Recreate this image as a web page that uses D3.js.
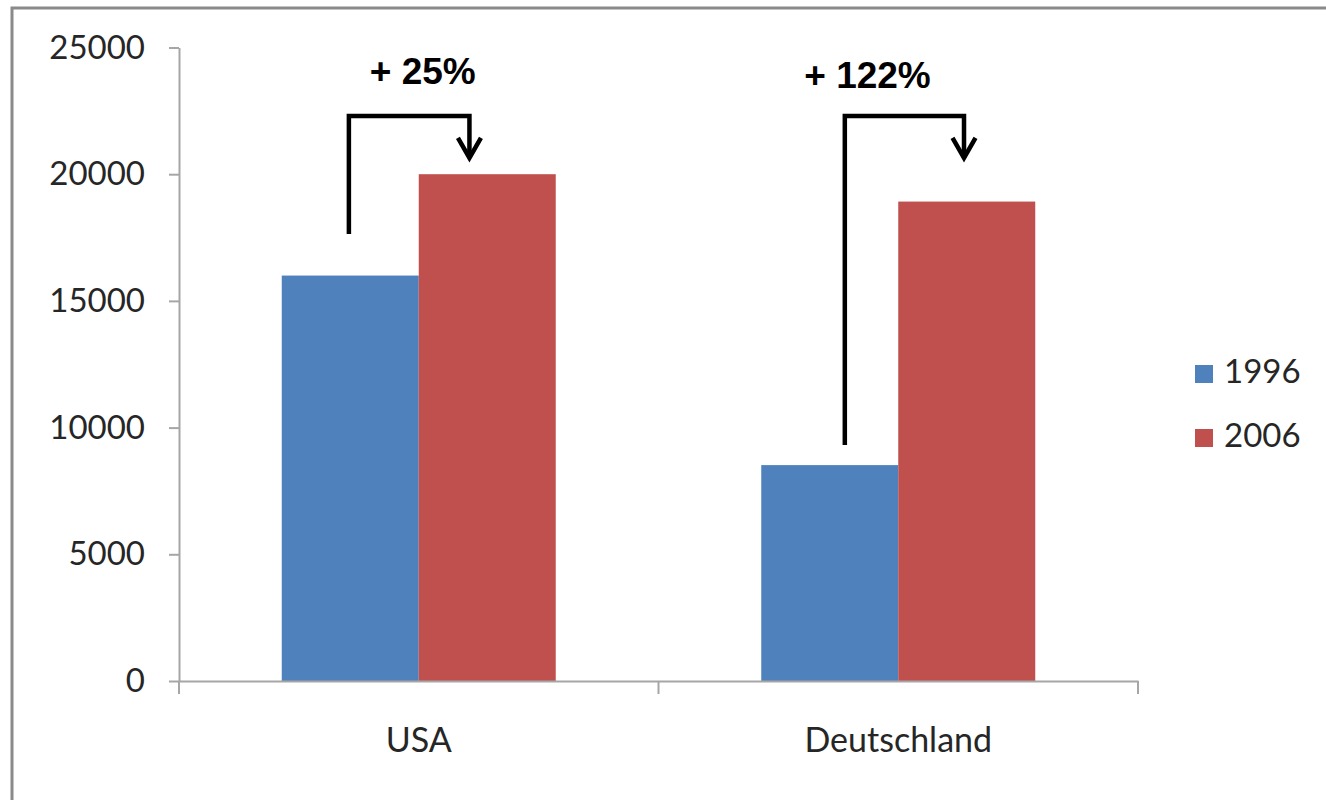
<!DOCTYPE html>
<html>
<head>
<meta charset="utf-8">
<script src="https://cdn.jsdelivr.net/npm/d3@7"></script>
<style>
  html, body { margin: 0; padding: 0; background: #fff; }
  svg { display: block; }
  .tick text, .lbl { font-family: Lato, "Open Sans", sans-serif; fill: #262626; }
  .anno { font-family: "Liberation Sans", Arial, sans-serif; font-weight: bold; fill: #000; }
</style>
</head>
<body>
<svg id="chart" width="1326" height="800"></svg>
<script>
// Values per country and year
const categories = ["USA", "Deutschland"];
const seriesNames = ["1996", "2006"];
const values1996 = [16000, 8520];
const values2006 = [20000, 18920];
const yTicks = [0, 5000, 10000, 15000, 20000, 25000];
const colors = ["#4F81BD", "#C0504D"];

// Growth annotations: label, value where the bracket starts, bracket height, arrow tip
const annoLabels = ["+ 25%", "+ 122%"];
const annoStart = [17640, 9310];
const annoBracket = 22300;
const annoTip = 20640;

const W = 1326, H = 800;
const plot = { left: 179, right: 1138, top: 47.5, bottom: 681 };
const fontSize = "33px";

const svg = d3.select("#chart");

// outer frame (top and left edges visible)
svg.append("path")
  .attr("d", `M12,${H} V8 H${W}`)
  .attr("fill", "none")
  .attr("stroke", "#8a8a8a")
  .attr("stroke-width", 3);

const y = d3.scaleLinear().domain([0, 25000]).range([plot.bottom, plot.top]);
const x = d3.scaleBand().domain(categories).range([plot.left, plot.right]).paddingInner(0).paddingOuter(0);
const xs = d3.scaleBand().domain(seriesNames).range([0, x.bandwidth()]).paddingInner(0).paddingOuter(0.75);

const rows = categories.map((c, i) => ({ cat: c, vals: [values1996[i], values2006[i]] }));

// bars
const groups = svg.append("g").selectAll("g").data(rows).join("g")
  .attr("transform", d => `translate(${x(d.cat)},0)`);
groups.selectAll("rect")
  .data(d => d.vals.map((v, j) => ({ s: seriesNames[j], v, j })))
  .join("rect")
  .attr("x", d => xs(d.s))
  .attr("width", xs.bandwidth())
  .attr("y", d => y(d.v))
  .attr("height", d => y(0) - y(d.v))
  .attr("fill", d => colors[d.j]);

// y axis
const yAxis = svg.append("g")
  .attr("transform", `translate(${plot.left},0)`)
  .call(d3.axisLeft(y).tickValues(yTicks).tickFormat(d3.format("d")).tickSize(10).tickSizeOuter(0).tickPadding(24));
yAxis.selectAll("path, line").attr("stroke", "#a6a6a6").attr("stroke-width", 2);
yAxis.selectAll("text").style("font-size", fontSize);

// x axis
const xAxis = svg.append("g")
  .attr("transform", `translate(0,${plot.bottom})`)
  .call(d3.axisBottom(x).tickSize(0).tickPadding(47).tickSizeOuter(0));
xAxis.select(".domain").attr("stroke", "#a6a6a6").attr("stroke-width", 2);
xAxis.selectAll("text").style("font-size", "34px");

// category separators below the x axis
const bounds = categories.map(c => x(c)).concat([x(categories[categories.length - 1]) + x.bandwidth()]);
svg.append("g").selectAll("line").data(bounds).join("line")
  .attr("x1", d => d).attr("x2", d => d)
  .attr("y1", plot.bottom).attr("y2", plot.bottom + 13)
  .attr("stroke", "#a6a6a6").attr("stroke-width", 2);

// legend
const legend = svg.append("g").attr("transform", "translate(1195,365)");
const li = legend.selectAll("g").data(seriesNames).join("g")
  .attr("transform", (d, i) => `translate(0,${i * 64})`);
li.append("rect").attr("width", 18).attr("height", 18).attr("fill", (d, i) => colors[i]);
li.append("text").attr("class", "lbl").attr("x", 29).attr("y", 18).style("font-size", fontSize).text(d => d);

// growth brackets with arrows
const annoStartFrac = [0.49, 0.61];
const annoEndFrac = [0.37, 0.48];
const annoLabelX = [-49, -94];
const annoLabelY = [84, 88];
const anno = svg.append("g");
categories.forEach((c, i) => {
  const x0 = x(c) + xs(seriesNames[0]) + xs.bandwidth() * annoStartFrac[i];
  const x1 = x(c) + xs(seriesNames[1]) + xs.bandwidth() * annoEndFrac[i];
  const yb = y(annoBracket), yt = y(annoTip);
  anno.append("path")
    .attr("d", `M${x0},${y(annoStart[i])} V${yb} H${x1} V${yt}`)
    .attr("fill", "none").attr("stroke", "#000").attr("stroke-width", 4.5)
    .attr("stroke-linejoin", "miter");
  anno.append("path")
    .attr("d", `M${x1 - 11.5},${yt - 20} L${x1},${yt} L${x1 + 11.5},${yt - 20}`)
    .attr("fill", "none").attr("stroke", "#000").attr("stroke-width", 4.5)
    .attr("stroke-linejoin", "miter");
  anno.append("text").attr("class", "anno")
    .attr("x", x(c) + x.bandwidth() / 2 + annoLabelX[i])
    .attr("y", annoLabelY[i])
    .style("font-size", "37px")
    .text(annoLabels[i]);
});
</script>
</body>
</html>
